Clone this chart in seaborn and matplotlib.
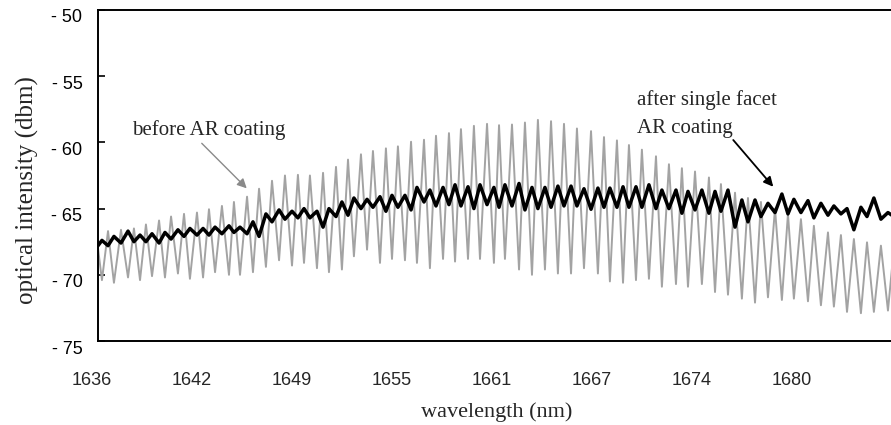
import numpy as np
import pandas as pd
import matplotlib
matplotlib.use("Agg")
import matplotlib.pyplot as plt
import matplotlib.transforms as mtransforms
import seaborn as sns

# ---------------- data ----------------
# wavelengths (nm) of the fringe maxima of the uncoated spectrum
peak_wl = [1636.27, 1637.02, 1637.83, 1638.64, 1639.39, 1640.21, 1640.96, 1641.77, 1642.58, 1643.33,
           1644.14, 1644.89, 1645.71, 1646.46, 1647.27, 1648.08, 1648.89, 1649.64, 1650.46, 1651.27,
           1652.02, 1652.83, 1653.58, 1654.39, 1655.14, 1655.96, 1656.77, 1657.52, 1658.33, 1659.08,
           1659.89, 1660.71, 1661.46, 1662.27, 1663.08, 1663.89, 1664.71, 1665.52, 1666.33, 1667.21,
           1668.02, 1668.83, 1669.58, 1670.39, 1671.27, 1672.08, 1672.89, 1673.71, 1674.58, 1675.33,
           1676.21, 1677.02, 1677.83, 1678.71, 1679.52, 1680.33, 1681.14, 1682.02, 1682.83, 1683.64,
           1684.46, 1685.33, 1686.14]
# wavelengths (nm) of the fringe minima of the uncoated spectrum
trough_wl = [1636.64, 1637.39, 1638.27, 1639.02, 1639.77, 1640.58, 1641.39, 1642.14, 1642.96, 1643.71,
             1644.58, 1645.27, 1646.08, 1646.89, 1647.71, 1648.52, 1649.27, 1650.08, 1650.83, 1651.64,
             1652.39, 1653.21, 1654.02, 1654.77, 1655.58, 1656.33, 1657.14, 1657.96, 1658.71, 1659.52,
             1660.27, 1661.14, 1661.83, 1662.71, 1663.52, 1664.33, 1665.14, 1665.96, 1666.77, 1667.64,
             1668.39, 1669.21, 1670.02, 1670.83, 1671.64, 1672.52, 1673.27, 1674.14, 1674.96, 1675.77,
             1676.64, 1677.46, 1678.27, 1679.14, 1679.89, 1680.77, 1681.58, 1682.39, 1683.21, 1684.08,
             1684.89, 1685.77]

# "before AR coating" (grey) values at the maxima / minima, dBm
before_at_peak = [-66.8, -66.7, -66.6, -66.5, -66.2, -65.9, -65.6, -65.4, -65.3, -65.05,
                  -64.8, -64.5, -64.1, -63.5, -62.9, -62.5, -62.45, -62.5, -62.3, -61.85,
                  -61.3, -60.9, -60.65, -60.45, -60.3, -59.95, -59.8, -59.5, -59.3, -59.0,
                  -58.75, -58.6, -58.7, -58.65, -58.5, -58.3, -58.4, -58.6, -58.95, -59.15,
                  -59.6, -59.85, -60.2, -60.55, -61.05, -61.65, -61.95, -62.2, -62.65, -63.15,
                  -63.8, -64.2, -64.5, -65.0, -65.4, -65.8, -66.3, -66.8, -67.0, -67.3,
                  -67.55, -67.8, -68.0]
before_at_trough = [-70.4, -70.6, -70.2, -70.4, -70.1, -70.2, -69.9, -70.3, -70.2, -69.8,
                    -70.0, -70.0, -69.8, -69.4, -68.9, -69.3, -69.1, -69.5, -69.8, -69.6,
                    -68.6, -68.1, -69.1, -68.8, -68.9, -69.1, -69.5, -68.8, -69.0, -68.8,
                    -68.8, -69.1, -68.8, -69.6, -70.0, -69.6, -69.9, -69.9, -69.5, -69.9,
                    -70.5, -70.6, -70.4, -70.3, -70.9, -70.7, -70.9, -70.7, -71.3, -71.5,
                    -71.8, -72.1, -71.7, -71.9, -71.8, -72.0, -72.3, -72.4, -72.8, -72.9,
                    -72.8, -72.7]

# "after single facet AR coating" (black) values at the same wavelengths, dBm
after_at_peak = [-68.0, -67.8, -67.6, -67.5, -67.5, -67.6, -67.3, -67.1, -67.0, -67.0,
                 -66.9, -66.8, -66.9, -67.1, -66.0, -65.8, -65.7, -65.7, -66.4, -65.6,
                 -65.5, -65.0, -64.9, -65.2, -64.9, -65.1, -64.5, -64.8, -64.7, -64.8,
                 -65.0, -64.7, -64.9, -64.8, -65.1, -65.0, -64.9, -64.8, -64.8, -65.05,
                 -64.9, -64.9, -64.9, -64.9, -65.0, -65.0, -65.35, -65.1, -65.35, -65.2,
                 -66.4, -66.0, -65.6, -65.3, -65.4, -65.3, -65.7, -65.5, -65.4, -66.6,
                 -65.6, -65.8, -65.6]
after_at_trough = [-67.4, -67.1, -66.7, -67.0, -66.9, -66.8, -66.6, -66.5, -66.5, -66.4,
                   -66.3, -66.4, -66.0, -65.4, -65.1, -65.2, -65.0, -65.2, -65.0, -64.5,
                   -64.2, -64.3, -64.1, -64.0, -64.0, -63.4, -63.6, -63.4, -63.2, -63.35,
                   -63.2, -63.4, -63.2, -63.1, -63.4, -63.4, -63.3, -63.3, -63.5, -63.45,
                   -63.45, -63.35, -63.35, -63.2, -63.6, -63.6, -63.7, -63.6, -63.7, -63.6,
                   -64.35, -64.35, -64.6, -63.9, -64.3, -64.4, -64.6, -64.8, -65.0, -64.9,
                   -64.2, -65.3]

xtick_values = [1636.0, 1642.25, 1648.5, 1654.75, 1661.0, 1667.25, 1673.5, 1679.75]
xtick_labels = ["1636", "1642", "1649", "1655", "1661", "1667", "1674", "1680"]
ytick_values = [-75, -70, -65, -60, -55, -50]
ytick_labels = ["- 75", "- 70", "- 65", "- 60", "- 55", "- 50"]

# ---------------- build tables ----------------
wl_all = list(peak_wl) + list(trough_wl)
df_before = pd.DataFrame({"wavelength": wl_all,
                          "intensity": list(before_at_peak) + list(before_at_trough)})
df_after = pd.DataFrame({"wavelength": wl_all,
                         "intensity": list(after_at_peak) + list(after_at_trough)})

# ---------------- figure ----------------
sns.set_style("white")
SANS = ["Liberation Sans", "DejaVu Sans"]
SERIF = ["Liberation Serif", "DejaVu Serif"]
plt.rcParams["font.family"] = SANS

W, H = 891, 425
fig = plt.figure(figsize=(W / 100, H / 100), dpi=100)
left_px, right_px, top_px, bot_px = 97.7, 891, 10, 341
ax = fig.add_axes([left_px / W, (H - bot_px) / H, (right_px - left_px) / W, (bot_px - top_px) / H])

sns.lineplot(data=df_before, x="wavelength", y="intensity", ax=ax, estimator=None,
             color="#a3a3a3", linewidth=1.4, sort=True, solid_joinstyle="round")
sns.lineplot(data=df_after, x="wavelength", y="intensity", ax=ax, estimator=None,
             color="black", linewidth=2.5, sort=True)

ax.set_xlim(1636.375, 1685.96)
ax.set_ylim(-75, -50)

# spines
for s in ["top", "bottom", "left"]:
    ax.spines[s].set_visible(True)
    ax.spines[s].set_color("black")
    ax.spines[s].set_linewidth(1.4)
ax.spines["right"].set_visible(False)

# y ticks
ax.set_yticks(ytick_values)
ax.set_yticklabels(ytick_labels, fontsize=13, family=SANS)
ax.tick_params(axis="y", direction="in", length=5, width=1.2, left=True, pad=11, colors="black")
offset = mtransforms.ScaledTranslation(0, -0.06, fig.dpi_scale_trans)
for lab in ax.get_yticklabels():
    lab.set_transform(lab.get_transform() + offset)

# x tick labels (no tick marks)
ax.set_xticks([])
xt = mtransforms.blended_transform_factory(ax.transData, ax.transAxes)
for v, t in zip(xtick_values, xtick_labels):
    ax.text(v, -0.118, t, transform=xt, ha="center", va="center", fontsize=13,
            family=SANS, clip_on=False)

ax.set_xlabel("")
ax.set_ylabel("")
ax.text(0.503, -0.2145, "wavelength (nm)", transform=ax.transAxes, ha="center", va="center",
        fontsize=16, family=SERIF)
ax.text(-0.0891, 0.456, "optical intensity (dbm)", transform=ax.transAxes, ha="center",
        va="center", rotation=90, fontsize=18, family=SERIF)

# annotations
ax.annotate("", xy=(1645.69, -63.47), xytext=(1642.88, -60.07),
            arrowprops=dict(arrowstyle="-|>", color="#8a8a8a", lw=1.0, mutation_scale=14,
                            shrinkA=0, shrinkB=0))
ax.text(1638.5, -59.06, "before AR coating", ha="left", va="center", fontsize=15, family=SERIF)

ax.text(1670.06, -56.8, "after single facet", ha="left", va="center", fontsize=15, family=SERIF)
ax.text(1670.06, -58.93, "AR coating", ha="left", va="center", fontsize=15, family=SERIF)
ax.annotate("", xy=(1678.6, -63.35), xytext=(1676.1, -59.82),
            arrowprops=dict(arrowstyle="-|>", color="black", lw=1.3, mutation_scale=14,
                            shrinkA=0, shrinkB=0))

fig.savefig("out.png", dpi=100)
